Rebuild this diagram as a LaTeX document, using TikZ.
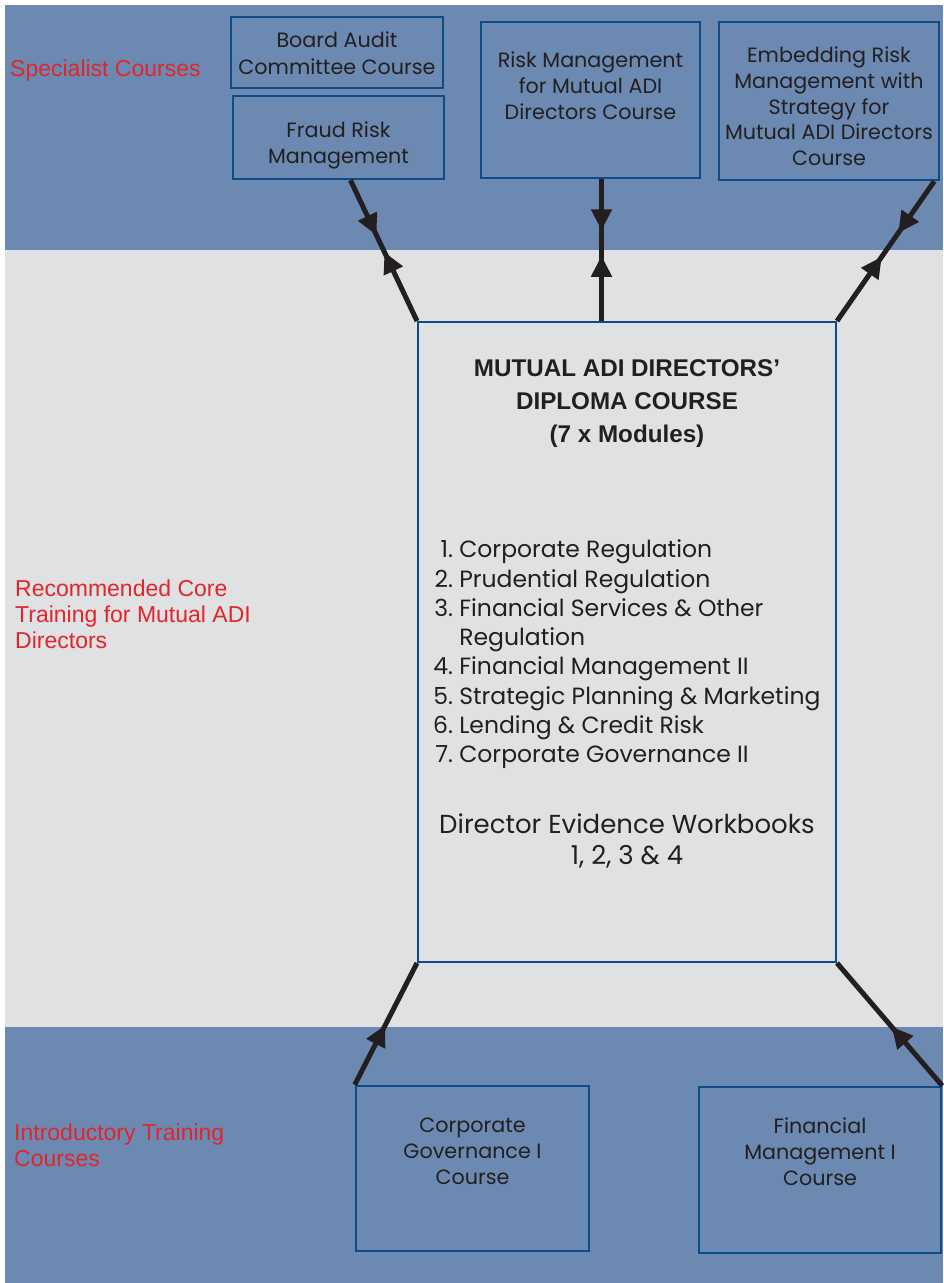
\documentclass[tikz,border=0pt]{standalone}
\usepackage{fontspec}
\setmainfont{Poppins}
\newfontfamily\labelfont{Liberation Sans}
\usetikzlibrary{positioning,calc,arrows.meta,decorations.markings}

\definecolor{bandblue}{HTML}{6B89B1}
\definecolor{bandgrey}{HTML}{E0E1E3}
\definecolor{boxblue}{HTML}{0E4C87}
\definecolor{inkblack}{HTML}{231F20}
\definecolor{labelred}{HTML}{E2242B}

% fixed size box with text placed inside it
\newcommand{\boxtext}[4]{\parbox[c][#2][#3]{#1}{\centering #4}}

\tikzset{%
  % Specifications for style of nodes:
       course/.style = {rectangle, draw = boxblue, line width=2.5pt, inner sep=0pt, text=inkblack, font=\fontsize{20.7}{25.7}\selectfont},
         core/.style = {rectangle, draw = boxblue, line width=2pt, inner sep=0pt},
      heading/.style = {inner sep=0pt, align=center, text=inkblack, font=\labelfont\fontsize{24.2}{33}\selectfont\bfseries},
     bodytext/.style = {inner sep=0pt, align=center, text=inkblack},
     bandname/.style = {inner sep=0pt, anchor=west, align=left, text=labelred, font=\labelfont\fontsize{23}{26}\selectfont},
  % Specifications for style of connectors:
         link/.style = {line width=5pt, color=inkblack},
     twoheads/.style 2 args = {postaction={decorate, decoration={markings,
                        mark=at position #1 with {\arrow{>}},
                        mark=at position #2 with {\arrowreversed{>}}}}},
      onehead/.style = {postaction={decorate, decoration={markings,
                        mark=at position #1 with {\arrow{>}}}}},
}

\begin{document}
\begin{tikzpicture}[x=1pt, y=-1pt, >={Triangle[length=21pt,width=20pt]}]
    \useasboundingbox (0,0) rectangle (943,1283);

    % Draw bands
    \fill[bandblue] (5,5)    rectangle (943,250);
    \fill[bandgrey] (5,250)  rectangle (943,1027);
    \fill[bandblue] (5,1027) rectangle (943,1283);

    \node (specialist)  [bandname] at (10,71)    {Specialist Courses};
    \node (recommended) [bandname] at (15,614)   {Recommended Core\\Training for Mutual ADI\\Directors};
    \node (introductory)[bandname] at (14,1145)  {Introductory Training\\Courses};

    % Draw nodes
    \node (board)   [course] at (337,52.5)  {\boxtext{212pt}{71pt}{t}{\vspace*{15pt}Board Audit\\[1pt]Committee Course}};
    \node (fraud)   [course] at (338.5,137.5) {\boxtext{211pt}{83pt}{t}{\vspace*{26pt}Fraud Risk\\Management}};
    \node (riskmgmt)[course] at (590.5,100) {\boxtext{219pt}{156pt}{t}{\vspace*{30pt}Risk Management\\for Mutual ADI\\Directors Course}};
    \node (embed)   [course] at (829,101)   {\boxtext{220pt}{158pt}{t}{\vspace*{25pt}Embedding Risk\\Management with\\Strategy for\\Mutual ADI Directors\\Course}};

    \node (main)    [core, minimum width=418pt, minimum height=640pt] at (627,642) {};
    \node (title)   [heading, below=38pt of main.north] {MUTUAL ADI DIRECTORS’\\DIPLOMA COURSE\\(7 x Modules)};
    \node (modules) [bodytext, below right=216pt and 16pt of main.north west, font=\fontsize{23.5}{29.3}\selectfont]
        {\begin{tabular}{@{}r@{\ }l@{}}
          1. & Corporate Regulation\\
          2. & Prudential Regulation\\
          3. & Financial Services \& Other\\
             & Regulation\\
          4. & Financial Management II\\
          5. & Strategic Planning \& Marketing\\
          6. & Lending \& Credit Risk\\
          7. & Corporate Governance II
         \end{tabular}};
    \node (workbooks) [bodytext, below=493pt of main.north, font=\fontsize{26}{31}\selectfont] {Director Evidence Workbooks\\1, 2, 3 \& 4};

    \node (corpgov) [course] at (472.5,1168.5) {\boxtext{233pt}{165pt}{t}{\vspace*{32pt}Corporate\\Governance I\\Course}};
    \node (finmgmt) [course] at (820,1170)     {\boxtext{242pt}{166pt}{t}{\vspace*{31pt}Financial\\Management I\\Course}};

    % Draw arrows
    \coordinate (fraudfoot) at ($(fraud.south)+(12,0)$);
    \coordinate (riskfoot)  at ($(riskmgmt.south)+(11,0)$);
    \coordinate (embedfoot) at ($(embed.south east)+(-6,0)$);

    \draw[link, twoheads={0.39}{0.51}] (fraudfoot) -- (main.north west);
    \draw[link, twoheads={0.36}{0.54}] (riskfoot)  -- (riskfoot |- main.north);
    \draw[link, twoheads={0.37}{0.54}] (embedfoot) -- (main.north east);

    \draw[link, onehead=0.49] (corpgov.north west) -- (main.south west);
    \draw[link, onehead=0.48] (finmgmt.north east) -- (main.south east);

\end{tikzpicture}
\end{document}
